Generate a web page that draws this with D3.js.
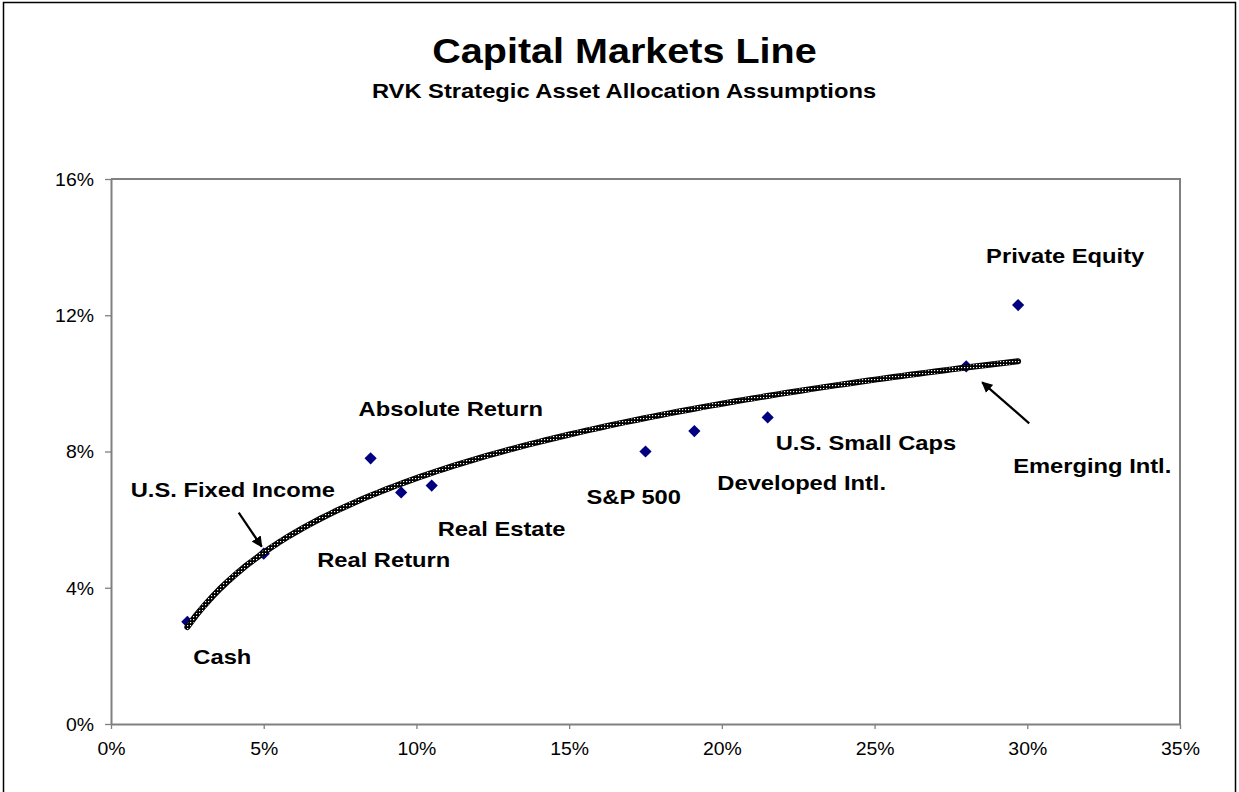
<!DOCTYPE html>
<html>
<head>
<meta charset="utf-8">
<script src="https://cdn.jsdelivr.net/npm/d3@7"></script>
<style>
  html, body { margin: 0; padding: 0; background: #fff; }
  svg { display: block; font-family: Arial, "Liberation Sans", sans-serif; }
</style>
</head>
<body>
<svg id="chart" width="1239" height="792"></svg>
<script>
// Asset classes: expected risk (std. dev., %) and expected return (%)
const assets = ["Cash", "U.S. Fixed Income", "Absolute Return", "Real Return", "Real Estate",
                "S&P 500", "Developed Intl.", "U.S. Small Caps", "Emerging Intl.", "Private Equity"];
const risk   = [2.5, 5.0, 8.5, 9.5, 10.5, 17.5, 19.1, 21.5, 28.0, 29.7];
const ret    = [3.0, 5.0, 7.8, 6.8, 7.0, 8.0, 8.6, 9.0, 10.5, 12.3];

const xTicks = [0, 5, 10, 15, 20, 25, 30, 35];
const yTicks = [0, 4, 8, 12, 16];

// Label placement relative to each marker (pixels): dx, dy of the text baseline start
const labelOffset = {
  "Cash":              [6, 42],
  "U.S. Fixed Income": [-133, -57],
  "Absolute Return":   [-12, -42],
  "Real Return":       [-84, 75],
  "Real Estate":       [6, 50],
  "S&P 500":           [-59, 52],
  "Developed Intl.":   [23, 59],
  "U.S. Small Caps":   [8, 33],
  "Emerging Intl.":    [47, 107],
  "Private Equity":    [-32, -42]
};
// Pointer arrows: [head dx, head dy, tail dx, tail dy] relative to the marker
const arrows = {
  "U.S. Fixed Income": [-2, -7, -25, -41],
  "Emerging Intl.":    [16, 16, 63, 57]
};

const STRETCH = 1.13;
const svg = d3.select("#chart");

const x = d3.scaleLinear().domain([0, 35]).range([111, 1180]);
const y = d3.scaleLinear().domain([0, 16]).range([724, 179]);

// Outer frame
svg.append("rect").attr("x", 3.5).attr("y", 2.5).attr("width", 1232).attr("height", 820)
  .attr("fill", "none").attr("stroke", "#000").attr("stroke-width", 1.5);

// Titles
svg.append("text").text("Capital Markets Line")
  .attr("transform", `translate(624.5,63) scale(${STRETCH},1)`)
  .attr("text-anchor", "middle").attr("font-size", 35).attr("font-weight", "bold");
svg.append("text").text("RVK Strategic Asset Allocation Assumptions")
  .attr("transform", `translate(624,98) scale(${STRETCH},1)`)
  .attr("text-anchor", "middle").attr("font-size", 21).attr("font-weight", "bold");

// Plot frame (top and right)
const frameColor = "#808080";
svg.append("path")
  .attr("d", `M${x(0)},${y(16)}H${x(35)}V${y(0)}`)
  .attr("fill", "none").attr("stroke", frameColor).attr("stroke-width", 2);

// Axes
const xAxis = svg.append("g").attr("transform", `translate(0,${y(0)})`)
  .call(d3.axisBottom(x).tickValues(xTicks).tickFormat(d => d + "%").tickSize(5).tickSizeOuter(0));
const yAxis = svg.append("g").attr("transform", `translate(${x(0)},0)`)
  .call(d3.axisLeft(y).tickValues(yTicks).tickFormat(d => d + "%").tickSize(6).tickSizeOuter(0));

[xAxis, yAxis].forEach(g => {
  g.select(".domain").attr("stroke", frameColor).attr("stroke-width", 2);
  g.selectAll(".tick line").attr("stroke", frameColor).attr("stroke-width", 1.3);
  g.selectAll(".tick text").attr("font-size", 18).attr("fill", "#000")
    .attr("font-family", "Arial, 'Liberation Sans', sans-serif");
});
xAxis.selectAll(".tick text").attr("y", 0).attr("dy", 0)
  .attr("transform", `translate(0,31) scale(1.08,1)`);
yAxis.selectAll(".tick text").attr("x", 0).attr("dy", "0.35em")
  .attr("transform", `translate(-17,0) scale(1.08,1)`);

// Asset markers (navy diamonds), drawn beneath the trend line
const pts = assets.map((name, i) => ({ name, r: risk[i], v: ret[i] }));
svg.append("g").selectAll("path").data(pts).join("path")
  .attr("d", d3.symbol().type(d3.symbolDiamond2).size(95))
  .attr("transform", d => `translate(${x(d.r)},${y(d.v)})`)
  .attr("fill", "#000080");

// Logarithmic least-squares trend line through the asset points
const lx = risk.map(Math.log);
const mx = d3.mean(lx), my = d3.mean(ret);
const slope = d3.sum(lx, (v, i) => (v - mx) * (ret[i] - my)) / d3.sum(lx, v => (v - mx) ** 2);
const intercept = my - slope * mx;
const [rMin, rMax] = d3.extent(risk);
const trend = d3.range(0, 101).map(k => {
  const r = rMin + (rMax - rMin) * k / 100;
  return [r, intercept + slope * Math.log(r)];
});

const defs = svg.append("defs");
const pat = defs.append("pattern").attr("id", "speckle").attr("patternUnits", "userSpaceOnUse")
  .attr("width", 3).attr("height", 3);
pat.append("rect").attr("width", 3).attr("height", 3).attr("fill", "#000");
pat.append("rect").attr("x", 1).attr("y", 1).attr("width", 1.2).attr("height", 1.2).attr("fill", "#fff");

const line = d3.line().x(d => x(d[0])).y(d => y(d[1]));
svg.append("path").datum(trend).attr("d", line)
  .attr("fill", "none").attr("stroke", "#000").attr("stroke-width", 6).attr("stroke-linecap", "round");
svg.append("path").datum(trend).attr("d", line)
  .attr("fill", "none").attr("stroke", "url(#speckle)").attr("stroke-width", 4.5).attr("stroke-linecap", "round");

// Asset labels
svg.append("g").selectAll("text").data(pts).join("text")
  .text(d => d.name)
  .attr("transform", d => {
    const o = labelOffset[d.name];
    return `translate(${x(d.r) + o[0]},${y(d.v) + o[1]}) scale(${STRETCH},1)`;
  })
  .attr("font-size", 21).attr("font-weight", "bold").attr("fill", "#000");

// Pointer arrows
defs.append("marker").attr("id", "arrowhead").attr("viewBox", "0 0 10 10")
  .attr("refX", 9).attr("refY", 5).attr("markerWidth", 5).attr("markerHeight", 5)
  .attr("orient", "auto").attr("markerUnits", "strokeWidth")
  .append("path").attr("d", "M0,0L10,5L0,10Z").attr("fill", "#000");

svg.append("g").selectAll("line").data(pts.filter(d => arrows[d.name])).join("line")
  .attr("x1", d => x(d.r) + arrows[d.name][2])
  .attr("y1", d => y(d.v) + arrows[d.name][3])
  .attr("x2", d => x(d.r) + arrows[d.name][0])
  .attr("y2", d => y(d.v) + arrows[d.name][1])
  .attr("stroke", "#000").attr("stroke-width", 2.2)
  .attr("marker-end", "url(#arrowhead)");
</script>
</body>
</html>
